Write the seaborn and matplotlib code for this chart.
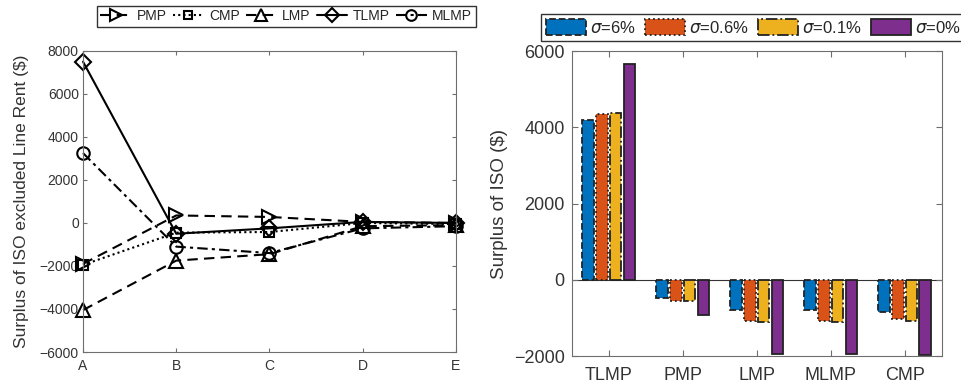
import matplotlib
matplotlib.use("Agg")
import matplotlib.pyplot as plt
from matplotlib.patches import Patch
import seaborn as sns
import pandas as pd

# --- data ---
nodes = ["A", "B", "C", "D", "E"]
line_methods = ["PMP", "CMP", "LMP", "TLMP", "MLMP"]
pmp = [-1900, 350, 280, 50, 0]
cmp_ = [-1950, -450, -420, 0, -50]
lmp = [-4050, -1750, -1450, -150, -100]
tlmp = [7500, -500, -250, 50, 0]
mlmp = [3250, -1100, -1400, -250, -150]

bar_methods = ["TLMP", "PMP", "LMP", "MLMP", "CMP"]
sigmas = ["$\\sigma$=6%", "$\\sigma$=0.6%", "$\\sigma$=0.1%", "$\\sigma$=0%"]
s6 = [4200, -485, -795, -795, -840]
s06 = [4350, -545, -1075, -1075, -1040]
s01 = [4380, -545, -1100, -1110, -1075]
s0 = [5650, -925, -1940, -1955, -1980]

bar_colors = ["#0072BD", "#D95319", "#EDB120", "#7E2F8E"]
bar_styles = ["--", ":", "-.", "-"]

sns.set_theme(style="white")
plt.rcParams["font.family"] = ["Liberation Sans", "DejaVu Sans"]
plt.rcParams["mathtext.fontset"] = "dejavusans"
axis_col = "#6e6e6e"
text_col = "#333333"

fig = plt.figure(figsize=(9.61, 3.85), dpi=100)
ax1 = fig.add_axes([0.0864, 0.0857, 0.388, 0.782])
ax2 = fig.add_axes([0.595, 0.0753, 0.385, 0.792])

# --- left panel: lines ---
series = {"PMP": pmp, "CMP": cmp_, "LMP": lmp, "TLMP": tlmp, "MLMP": mlmp}
rows = []
for m in line_methods:
    for n, v in zip(nodes, series[m]):
        rows.append({"node": n, "value": v, "method": m})
df_lines = pd.DataFrame(rows)

markers = {"PMP": ">", "CMP": "s", "LMP": "^", "TLMP": "D", "MLMP": "o"}
dashes = {"PMP": (5, 3), "CMP": (1, 1.5), "LMP": (5, 3), "TLMP": "", "MLMP": (5, 2, 1.5, 2)}
sns.lineplot(data=df_lines, x="node", y="value", hue="method", style="method",
             hue_order=line_methods, style_order=line_methods,
             palette=["black"] * 5, markers=markers, dashes=dashes,
             linewidth=1.5, legend=False, ax=ax1)
msize = {"PMP": 10, "CMP": 7.5, "LMP": 10, "TLMP": 8, "MLMP": 9}
for line, m in zip(ax1.lines, line_methods):
    line.set_markerfacecolor("none")
    line.set_markeredgecolor("black")
    line.set_markeredgewidth(1.5)
    line.set_markersize(msize[m])
    line.set_clip_on(False)

ax1.set_xlim(0, 4)
ax1.set_ylim(-6000, 8000)
ax1.set_yticks([-6000, -4000, -2000, 0, 2000, 4000, 6000, 8000])
ax1.set_xlabel("")
ax1.set_ylabel("Surplus of ISO excluded Line Rent ($)", fontsize=12.5, color=text_col, labelpad=8)
ax1.tick_params(labelsize=10, colors=axis_col, labelcolor=text_col, direction="in",
                bottom=True, left=True, top=True, right=True, length=3, width=0.8, pad=3)
ax1.tick_params(axis="x", pad=5)

fig.legend(ax1.lines, line_methods, loc="upper center", bbox_to_anchor=(0.298, 1.003),
           ncol=5, fontsize=10, frameon=True, fancybox=False, edgecolor="#333333",
           handlelength=2.2, handletextpad=0.4, columnspacing=0.45, borderpad=0.25,
           framealpha=1, markerscale=0.85)

# --- right panel: bars ---
bar_series = [s6, s06, s01, s0]
rows = []
for s, vals in zip(sigmas, bar_series):
    for m, v in zip(bar_methods, vals):
        rows.append({"method": m, "value": v, "sigma": s})
df_bars = pd.DataFrame(rows)

sns.barplot(data=df_bars, x="method", y="value", hue="sigma", order=bar_methods,
            hue_order=sigmas, palette=bar_colors, width=0.74, gap=0.15,
            edgecolor="#222222", linewidth=1.3, saturation=1, legend=False, ax=ax2)
for cont, ls in zip(ax2.containers, bar_styles):
    for p in cont:
        p.set_linestyle(ls)

ax2.axhline(0, color="#333333", lw=0.8, zorder=0.5)
ax2.set_xlim(-0.5, 4.5)
ax2.set_ylim(-2000, 6000)
ax2.set_yticks([-2000, 0, 2000, 4000, 6000])
ax2.set_xlabel("")
ax2.set_ylabel("Surplus of ISO ($)", fontsize=13.5, color=text_col, labelpad=4)
ax2.tick_params(labelsize=13, colors=axis_col, labelcolor=text_col, direction="in",
                bottom=True, left=True, top=True, right=True, length=4, width=0.8, pad=5)
ax2.tick_params(axis="x", pad=8)

handles = [Patch(facecolor=c, edgecolor="#222222", linestyle=ls, linewidth=1.3)
           for c, ls in zip(bar_colors, bar_styles)]
fig.legend(handles, sigmas, loc="upper left", bbox_to_anchor=(0.554, 0.985),
           ncol=4, fontsize=12, frameon=True, fancybox=False, edgecolor="#333333",
           handlelength=2.4, handleheight=1.1, handletextpad=0.25, columnspacing=0.55,
           borderpad=0.3, framealpha=1)

for ax in (ax1, ax2):
    for sp in ax.spines.values():
        sp.set_color(axis_col)
        sp.set_linewidth(0.8)

fig.savefig("out.png", dpi=100)
